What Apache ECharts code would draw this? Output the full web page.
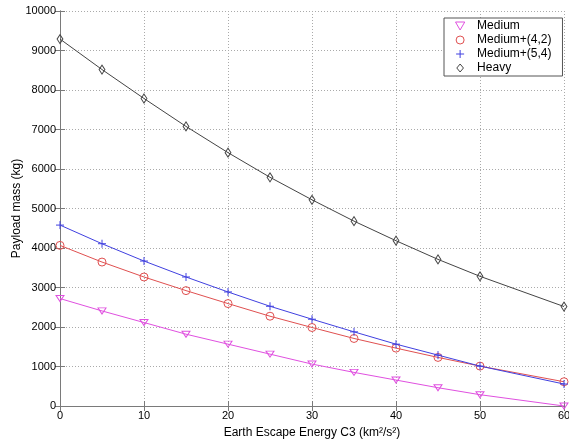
<!DOCTYPE html>
<html>
<head>
<meta charset="utf-8">
<script src="https://cdn.jsdelivr.net/npm/echarts@6/dist/echarts.min.js"></script>
<style>html,body{margin:0;padding:0;background:#fff;}#c{width:569px;height:445px;}</style>
</head>
<body>
<div id="c"></div>
<script>
var c3 = [0, 5, 10, 15, 20, 25, 30, 35, 40, 45, 50, 60];
var medium = [2720, 2407, 2113, 1818, 1566, 1313, 1061, 851, 657, 463, 286, 0];
var medium42 = [4066, 3644, 3266, 2921, 2593, 2273, 1987, 1710, 1465, 1230, 1010, 614];
var medium54 = [4580, 4108, 3670, 3266, 2887, 2525, 2197, 1877, 1566, 1288, 1010, 556];
var heavy = [9290, 8518, 7785, 7078, 6414, 5790, 5220, 4680, 4184, 3712, 3283, 2518];
var seriesNames = ['Medium', 'Medium+(4,2)', 'Medium+(5,4)', 'Heavy'];
var xTitle = 'Earth Escape Energy C3 (km\u00b2/s\u00b2)';
var yTitle = 'Payload mass (kg)';

var FONT = '"Liberation Sans", Arial, sans-serif';
var colors = ['#e050e0', '#e05050', '#4040e0', '#444444'];
var symbols = [
  'path://M0,0 L10,0 L5,8.66 Z',
  'circle',
  'path://M5,0 L5,10 M0,5 L10,5',
  'path://M5,0 L10,6 L5,12 L0,6 Z'
];
var sizes = [[8, 7], 8, 8, [7, 9]];

function pairs(v) { return c3.map(function (x, i) { return [x, v[i]]; }); }
var vals = [medium, medium42, medium54, heavy];

var series = vals.map(function (v, i) {
  return {
    name: seriesNames[i],
    type: 'line',
    data: pairs(v),
    symbol: symbols[i],
    symbolSize: sizes[i],
    symbolKeepAspect: true,
    showAllSymbol: true,
    clip: false,
    lineStyle: { color: colors[i], width: 1 },
    itemStyle: { color: 'rgba(0,0,0,0)', borderColor: colors[i], borderWidth: 1 },
    emphasis: { disabled: true },
    z: 2 + i
  };
});

var axisLineStyle = { color: '#7a7a7a', width: 1 };
var chart = echarts.init(document.getElementById('c'), null, { renderer: 'canvas' });
chart.setOption({
  animation: false,
  backgroundColor: '#fff',
  textStyle: { fontFamily: FONT },
  grid: { left: 60, right: 5, top: 11, bottom: 39, containLabel: false, outerBoundsMode: 'none' },
  legend: {
    orient: 'vertical',
    left: 444,
    top: 18,
    padding: [1, 11, 1, 11],
    itemGap: 0,
    itemWidth: 24,
    itemHeight: 8,
    backgroundColor: '#fff',
    borderColor: '#555',
    borderWidth: 1,
    borderRadius: 0,
    selectedMode: false,
    textStyle: { fontFamily: FONT, fontSize: 12, color: '#000', lineHeight: 14 },
    data: seriesNames.map(function (n, i) {
      return {
        name: n,
        icon: symbols[i],
        itemStyle: { color: 'rgba(0,0,0,0)', borderColor: colors[i], borderWidth: 1 }
      };
    })
  },
  xAxis: [{
    type: 'value', min: 0, max: 60, interval: 10, position: 'bottom',
    name: xTitle, nameLocation: 'middle', nameGap: 21, nameMoveOverlap: false,
    nameTextStyle: { fontFamily: FONT, fontSize: 12, color: '#000' },
    axisLine: { show: true, lineStyle: axisLineStyle },
    axisTick: { show: true, inside: true, length: 5, lineStyle: axisLineStyle },
    axisLabel: { fontFamily: FONT, fontSize: 11, color: '#000', margin: 4 },
    splitLine: { show: true, lineStyle: { color: '#aaa', type: [1, 2], width: 1 } }
  }, {
    type: 'value', min: 0, max: 60, interval: 10, position: 'top',
    axisLine: { show: true, lineStyle: axisLineStyle },
    axisTick: { show: true, inside: true, length: 5, lineStyle: axisLineStyle },
    axisLabel: { show: false },
    splitLine: { show: false }
  }],
  yAxis: [{
    type: 'value', min: 0, max: 10000, interval: 1000, position: 'left',
    name: yTitle, nameLocation: 'middle', nameGap: 37, nameMoveOverlap: false,
    nameTextStyle: { fontFamily: FONT, fontSize: 12, color: '#000' },
    axisLine: { show: true, lineStyle: axisLineStyle },
    axisTick: { show: true, inside: true, length: 5, lineStyle: axisLineStyle },
    axisLabel: { fontFamily: FONT, fontSize: 11, color: '#000', margin: 4,
      formatter: function (v) { return String(v); } },
    splitLine: { show: true, lineStyle: { color: '#aaa', type: [1, 2], width: 1 } }
  }, {
    type: 'value', min: 0, max: 10000, interval: 1000, position: 'right',
    axisLine: { show: true, lineStyle: axisLineStyle },
    axisTick: { show: true, inside: true, length: 5, lineStyle: axisLineStyle },
    axisLabel: { show: false },
    splitLine: { show: false }
  }],
  series: series
});
</script>
</body>
</html>
